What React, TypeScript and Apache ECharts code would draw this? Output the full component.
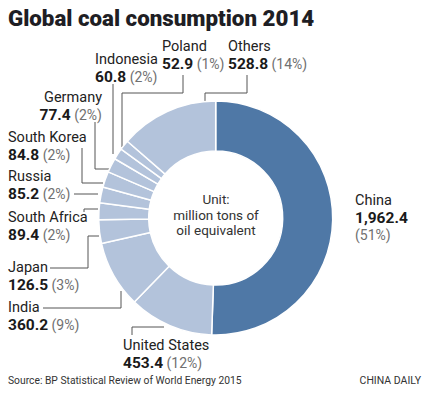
import React, { useEffect, useRef } from "react";
import * as echarts from "echarts";

const titleText = "Global coal consumption 2014";
const countries = [
  "China",
  "United States",
  "India",
  "Japan",
  "South Africa",
  "Russia",
  "South Korea",
  "Germany",
  "Indonesia",
  "Poland",
  "Others",
];
const consumption = [1962.4, 453.4, 360.2, 126.5, 89.4, 85.2, 84.8, 77.4, 60.8, 52.9, 528.8];
const unitLines = ["Unit:", "million tons of", "oil equivalent"];
const sourceText = "Source: BP Statistical Review of World Energy 2015";
const brandText = "CHINA DAILY";

// Layout (label placement and leader lines) keyed by country
const labelLayoutMap: Record<string, { x: number; base: number; align: string; line: number[][] | null }> = {
  China: { x: 355, base: 206, align: "left", line: null },
  "United States": { x: 123, base: 351, align: "left", line: [[132, 335], [132, 327], [164, 327]] },
  India: { x: 8, base: 313, align: "left", line: [[43, 308], [121, 308], [121, 291]] },
  Japan: { x: 8, base: 273, align: "left", line: [[50, 268], [88, 268], [88, 236], [99, 236]] },
  "South Africa": { x: 8, base: 223, align: "left", line: [[84, 212], [84, 209], [98, 209]] },
  Russia: { x: 8, base: 182, align: "left", line: [[74, 194], [98, 194]] },
  "South Korea": { x: 8, base: 143, align: "left", line: [[82, 148], [82, 183], [103, 183]] },
  Germany: { x: 102, base: 103, align: "right", line: [[95, 122], [95, 169], [111, 169]] },
  Indonesia: { x: 95, base: 65, align: "left", line: [[113, 84], [113, 154]] },
  Poland: { x: 162, base: 52, align: "left", line: [[183, 75], [183, 93], [122, 93], [122, 147]] },
  Others: { x: 228, base: 52, align: "left", line: [[247, 75], [247, 93], [205, 93], [205, 101]] },
};

const FONT = "Roboto, 'Noto Sans', sans-serif";
const DARK = "#4f78a6";
const LIGHT = "#b3c3db";

export default function App() {
  const ref = useRef<HTMLDivElement>(null);
  useEffect(() => {
    if (!ref.current) return;
    const chart = echarts.init(ref.current, undefined, { renderer: "svg" });
    const fmt = (v: number) =>
      v.toLocaleString("en-US", { minimumFractionDigits: 1, maximumFractionDigits: 1 });
    const LH = 17;
    const option: any = {
      animation: false,
      backgroundColor: "#ffffff",
      graphic: [
        {
          type: "text",
          x: 8,
          y: 26 - 0.35 * 22.3,
          style: {
            text: titleText,
            font: `900 22.3px ${FONT}`,
            fill: "#1e1e24",
            verticalAlign: "middle",
            align: "left",
          },
        },
        ...unitLines.map((t, i) => ({
          type: "text",
          x: 216,
          y: [204, 220, 235][i] - 0.35 * 13.5,
          style: {
            text: t,
            font: `13.5px ${FONT}`,
            fill: "#333",
            align: "center",
            verticalAlign: "middle",
          },
        })),
        {
          type: "text",
          x: 8,
          y: 384 - 0.35 * 10.3,
          style: { text: sourceText, font: `10.3px ${FONT}`, fill: "#333", align: "left", verticalAlign: "middle" },
        },
        {
          type: "text",
          x: 421,
          y: 384 - 0.35 * 10.3,
          style: { text: brandText, font: `10.5px ${FONT}`, fill: "#333", align: "right", verticalAlign: "middle" },
        },
      ],
      series: [
        {
          type: "pie",
          center: [215.7, 218],
          radius: [67, 117],
          startAngle: 90,
          clockwise: true,
          avoidLabelOverlap: false,
          itemStyle: { borderColor: "#ffffff", borderWidth: 1.5 },
          emphasis: { disabled: true },
          label: {
            show: true,
            position: "outside",
            formatter: (p: any) => {
              const pct = Math.round(p.percent);
              if (p.name === "China") {
                return `{n|${p.name}}\n{v|${fmt(p.value)}}\n{p|(${pct}%)}`;
              }
              return `{n|${p.name}}\n{v|${fmt(p.value)}}{p| (${pct}%)}`;
            },
            rich: {
              n: { fontSize: 14.5, fontFamily: FONT, color: "#222", lineHeight: LH },
              v: { fontSize: 15.5, fontFamily: FONT, fontWeight: "bold", color: "#1a1a1a", lineHeight: LH },
              p: { fontSize: 14, fontFamily: FONT, color: "#707070", lineHeight: LH },
            },
          },
          labelLine: { show: true, smooth: false, lineStyle: { color: "#555", width: 1 } },
          labelLayout: (params: any) => {
            const name = countries[params.dataIndex];
            const l = labelLayoutMap[name];
            const out: any = {
              x: l.x,
              y: l.base - 0.35 * 14.5 - LH / 2,
              align: l.align,
              verticalAlign: "top",
            };
            if (l.line) out.labelLinePoints = l.line;
            return out;
          },
          data: countries.map((c, i) => ({
            name: c,
            value: consumption[i],
            itemStyle: { color: i === 0 ? DARK : LIGHT },
            labelLine: { show: i !== 0 },
          })),
        },
      ],
    };
    chart.setOption(option);
    return () => chart.dispose();
  }, []);
  return (
    <div
      ref={ref}
      style={{ position: "fixed", left: 0, top: 0, width: 432, height: 398, background: "#fff" }}
    />
  );
}
